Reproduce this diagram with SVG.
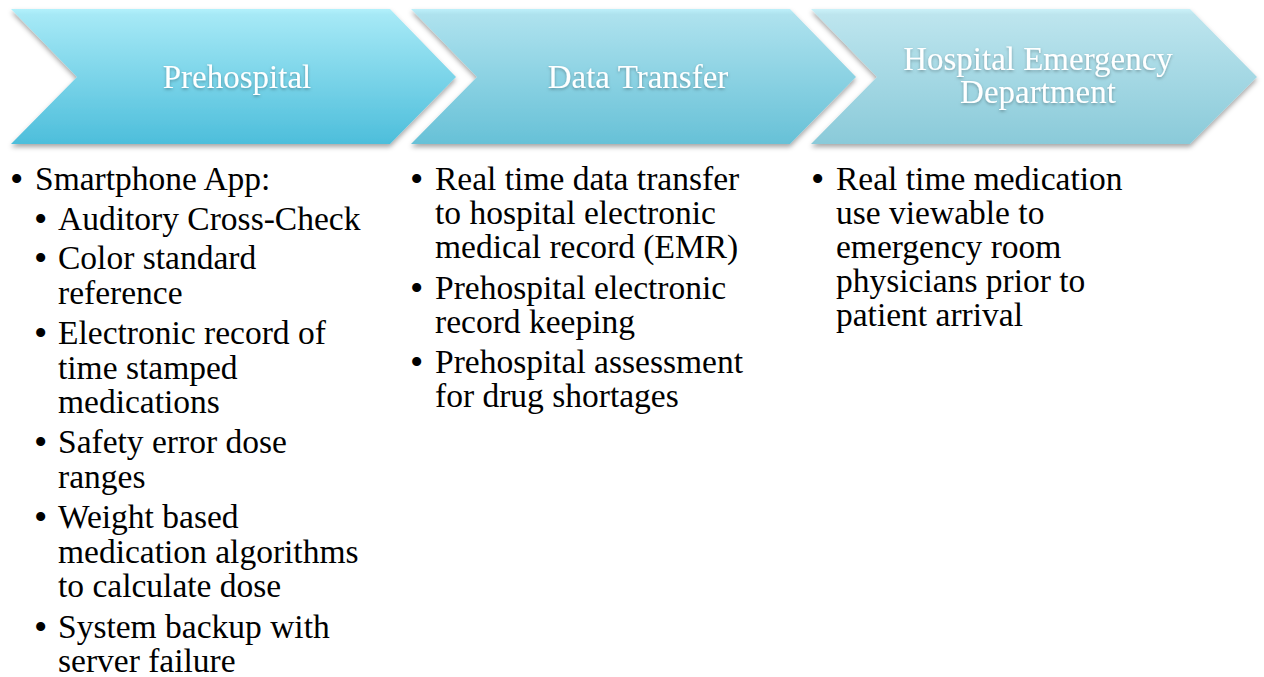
<svg xmlns="http://www.w3.org/2000/svg" width="1264" height="677" viewBox="0 0 1264 677">
<defs>
<linearGradient id="g1" x1="0" y1="0" x2="0" y2="1">
<stop offset="0" stop-color="#b3f1fc"/><stop offset="0.04" stop-color="#a6e9f6"/><stop offset="1" stop-color="#4dbedb"/>
</linearGradient>
<linearGradient id="g2" x1="0" y1="0" x2="0" y2="1">
<stop offset="0" stop-color="#bdf0fa"/><stop offset="0.04" stop-color="#aee2ee"/><stop offset="1" stop-color="#67c1d7"/>
</linearGradient>
<linearGradient id="g3" x1="0" y1="0" x2="0" y2="1">
<stop offset="0" stop-color="#cbf2f9"/><stop offset="0.04" stop-color="#bde5ee"/><stop offset="1" stop-color="#8acad9"/>
</linearGradient>
<filter id="sh" x="-10%" y="-20%" width="120%" height="150%">
<feDropShadow dx="0" dy="3" stdDeviation="2.5" flood-color="#000" flood-opacity="0.35"/>
</filter>
<filter id="tsh" x="-10%" y="-30%" width="120%" height="160%">
<feDropShadow dx="0" dy="1.5" stdDeviation="1.5" flood-color="#000" flood-opacity="0.3"/>
</filter>
</defs>
<style>
.hd{font-family:"Liberation Serif",serif;font-size:33px;fill:#ffffff;text-anchor:middle}
.bt{font-family:"Liberation Serif",serif;font-size:33.5px;fill:#000000}
.bu{font-family:"Liberation Serif",serif;font-size:38px;fill:#000000}
</style>
<g id="prehospital">
<path d="M11,9 H390 L456,77 L390,144 H11 L77,77 Z" fill="url(#g1)" filter="url(#sh)"/>
<text class="hd" x="237" y="88" filter="url(#tsh)">Prehospital</text>
</g>
<g id="data-transfer">
<path d="M411,9 H790 L856,77 L790,144 H411 L477,77 Z" fill="url(#g2)" filter="url(#sh)"/>
<text class="hd" x="638" y="88" filter="url(#tsh)">Data Transfer</text>
</g>
<g id="hospital-ed">
<path d="M811,9 H1190 L1257,77 L1190,144 H811 L877,77 Z" fill="url(#g3)" filter="url(#sh)"/>
<text class="hd" x="1038" y="70" filter="url(#tsh)">Hospital Emergency</text>
<text class="hd" x="1038" y="103" filter="url(#tsh)">Department</text>
</g>
<g id="connectors"/>
<g id="list-prehospital" class="bt">
<text class="bu" x="10" y="192">•</text><text x="35" y="190">Smartphone App:</text>
<text class="bu" x="34" y="232">•</text><text x="58" y="230">Auditory Cross-Check</text>
<text class="bu" x="34" y="271">•</text><text x="58" y="269">Color standard</text>
<text x="58" y="304">reference</text>
<text class="bu" x="34" y="346">•</text><text x="58" y="344">Electronic record of</text>
<text x="58" y="379">time stamped</text>
<text x="58" y="413">medications</text>
<text class="bu" x="34" y="455">•</text><text x="58" y="453">Safety error dose</text>
<text x="58" y="488">ranges</text>
<text class="bu" x="34" y="530">•</text><text x="58" y="528">Weight based</text>
<text x="58" y="563">medication algorithms</text>
<text x="58" y="597">to calculate dose</text>
<text class="bu" x="34" y="640">•</text><text x="58" y="638">System backup with</text>
<text x="58" y="672">server failure</text>
</g>
<g id="list-data-transfer" class="bt">
<text class="bu" x="410" y="192">•</text><text x="435" y="190">Real time data transfer</text>
<text x="435" y="224">to hospital electronic</text>
<text x="435" y="258">medical record (EMR)</text>
<text class="bu" x="410" y="301">•</text><text x="435" y="299">Prehospital electronic</text>
<text x="435" y="333">record keeping</text>
<text class="bu" x="410" y="375">•</text><text x="435" y="373">Prehospital assessment</text>
<text x="435" y="407">for drug shortages</text>
</g>
<g id="list-hospital-ed" class="bt">
<text class="bu" x="811" y="192">•</text><text x="836" y="190">Real time medication</text>
<text x="836" y="224">use viewable to</text>
<text x="836" y="258">emergency room</text>
<text x="836" y="292">physicians prior to</text>
<text x="836" y="326">patient arrival</text>
</g>
</svg>
